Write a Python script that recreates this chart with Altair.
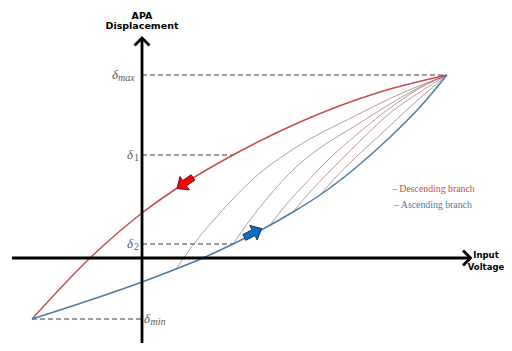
import altair as alt
import pandas as pd

# ---- data (arbitrary units: U = input voltage, D = APA displacement) ----
desc_u = [-1.10, -0.52, 0.00, 0.43, 0.91, 1.58, 2.38, 3.05]
desc_d = [-0.61, 0.00, 0.45, 0.75, 1.03, 1.36, 1.66, 1.83]

asc_u = [-1.10, 0.00, 0.34, 0.61, 0.91, 1.21, 1.51, 1.78, 2.11, 2.45, 2.78, 3.05]
asc_d = [-0.61, -0.24, -0.11, 0.00, 0.14, 0.29, 0.46, 0.63, 0.88, 1.18, 1.51, 1.83]

inner_u = [
    [0.34, 0.51, 0.78, 1.11, 1.53, 2.13, 2.58, 3.05],
    [0.91, 1.08, 1.28, 1.53, 1.78, 2.13, 2.48, 2.78, 3.05],
    [1.28, 1.43, 1.63, 1.88, 2.13, 2.48, 2.78, 3.05],
    [1.51, 1.68, 1.88, 2.13, 2.48, 2.78, 3.05],
    [1.78, 1.93, 2.13, 2.38, 2.68, 3.05],
]
inner_d = [
    [-0.11, 0.13, 0.45, 0.79, 1.10, 1.42, 1.64, 1.83],
    [0.14, 0.38, 0.63, 0.90, 1.10, 1.32, 1.54, 1.71, 1.83],
    [0.33, 0.52, 0.74, 1.00, 1.22, 1.50, 1.70, 1.83],
    [0.46, 0.66, 0.87, 1.12, 1.45, 1.66, 1.83],
    [0.63, 0.80, 1.00, 1.23, 1.51, 1.83],
]

# reference levels: name, value, dashed-line start/end on U
level_sub = ["max", "1", "2", "min"]
level_val = [1.83, 1.03, 0.14, -0.61]
level_u0 = [0.00, 0.00, 0.00, -1.10]
level_u1 = [3.05, 0.91, 0.91, 0.00]
level_lab_u = [-0.24, -0.09, -0.09, 0.02]
level_sub_u = [-0.24, -0.09, -0.09, 0.085]
level_align = ["right", "right", "right", "left"]
level_sub_style = ["italic", "normal", "normal", "italic"]

# axes extents
u_axis = [-1.30, 3.285]
d_axis = [-0.85, 2.20]

# direction arrows (position on branch)
arrow_u = [0.43, 1.11]
arrow_d = [0.75, 0.25]

legend_labels = ["\u2013\u2009Descending branch", "\u2013\u2009Ascending branch"]
legend_u = [2.505, 2.52]
legend_d = [0.69, 0.53]

RED = "#c0504d"
BLUE = "#4a7ca8"

xs = alt.Scale(domain=[-1.34, 3.62], nice=False, zero=False)
ys = alt.Scale(domain=[-0.85, 2.50], nice=False, zero=False)
X = lambda f: alt.X(f, type="quantitative", scale=xs, axis=None)
Y = lambda f: alt.Y(f, type="quantitative", scale=ys, axis=None)

# frames
desc_df = pd.DataFrame({"u": desc_u, "d": desc_d, "i": range(len(desc_u))})
asc_df = pd.DataFrame({"u": asc_u, "d": asc_d, "i": range(len(asc_u))})
inner_rows = []
for k, (us, ds) in enumerate(zip(inner_u, inner_d)):
    for i, (u, d) in enumerate(zip(us, ds)):
        inner_rows.append({"u": u, "d": d, "c": k, "i": i})
inner_df = pd.DataFrame(inner_rows)
lev_df = pd.DataFrame({"sub": level_sub, "d": level_val, "u0": level_u0, "u1": level_u1,
                       "lu": level_lab_u, "su": level_sub_u, "al": level_align,
                       "st": level_sub_style, "delta": ["\u03b4"] * 4})

dashed = alt.Chart(lev_df).mark_rule(color="#3a3a3a", strokeWidth=1.2, strokeDash=[5, 3]).encode(
    x=X("u0"), x2="u1", y=Y("d"))

inner = alt.Chart(inner_df).mark_line(interpolate="monotone", color="#9a6a70", strokeWidth=0.8,
                                      opacity=0.85).encode(
    x=X("u"), y=Y("d"), detail="c:N", order="i:Q")

desc = alt.Chart(desc_df).mark_line(interpolate="monotone", color=RED, strokeWidth=1.5).encode(
    x=X("u"), y=Y("d"), order="i:Q")
asc = alt.Chart(asc_df).mark_line(interpolate="monotone", color=BLUE, strokeWidth=1.5).encode(
    x=X("u"), y=Y("d"), order="i:Q")

haxis = alt.Chart(pd.DataFrame({"u0": [u_axis[0]], "u1": [u_axis[1]], "d": [0.0]})).mark_rule(
    color="black", strokeWidth=2.8).encode(x=X("u0"), x2="u1", y=Y("d"))
vaxis = alt.Chart(pd.DataFrame({"d0": [d_axis[0]], "d1": [d_axis[1]], "u": [0.0]})).mark_rule(
    color="black", strokeWidth=2.8).encode(y=Y("d0"), y2="d1", x=X("u"))

CHEVRON = "M -1 -1 L 0 0 L -1 1"
hhead = alt.Chart(pd.DataFrame({"u": [u_axis[1]], "d": [0.0]})).mark_point(
    shape=CHEVRON, filled=False, stroke="black", strokeWidth=2.8, size=225, opacity=1).encode(
    x=X("u"), y=Y("d"))
vhead = alt.Chart(pd.DataFrame({"u": [0.0], "d": [d_axis[1]]})).mark_point(
    shape=CHEVRON, filled=False, stroke="black", strokeWidth=2.8, size=225, angle=270, opacity=1).encode(
    x=X("u"), y=Y("d"))

BLOCK = "M -0.95 -0.32 L 0.05 -0.32 L 0.05 -0.8 L 0.95 0 L 0.05 0.8 L 0.05 0.32 L -0.95 0.32 Z"
red_arrow = alt.Chart(pd.DataFrame({"u": [arrow_u[0]], "d": [arrow_d[0]]})).mark_point(
    shape=BLOCK, filled=True, fill="#ff0000", stroke="#3a1010", strokeWidth=0.8, size=420,
    angle=145, opacity=1).encode(x=X("u"), y=Y("d"))
blue_arrow = alt.Chart(pd.DataFrame({"u": [arrow_u[1]], "d": [arrow_d[1]]})).mark_point(
    shape=BLOCK, filled=True, fill="#0a6fc2", stroke="#102a40", strokeWidth=0.8, size=420,
    angle=333, opacity=1).encode(x=X("u"), y=Y("d"))

# labels
delta_r = alt.Chart(lev_df[lev_df.al == "right"]).mark_text(
    font="Liberation Serif", fontStyle="italic", fontSize=13, color="#595959",
    align="right", baseline="alphabetic", dy=4).encode(x=X("lu"), y=Y("d"), text="delta:N")
delta_l = alt.Chart(lev_df[lev_df.al == "left"]).mark_text(
    font="Liberation Serif", fontStyle="italic", fontSize=13, color="#595959",
    align="left", baseline="alphabetic", dy=4).encode(x=X("lu"), y=Y("d"), text="delta:N")
subs_it = alt.Chart(lev_df[lev_df.st == "italic"]).mark_text(
    font="Liberation Serif", fontStyle="italic", fontSize=10, color="#595959",
    align="left", baseline="alphabetic", dy=6).encode(x=X("su"), y=Y("d"), text="sub:N")
subs_up = alt.Chart(lev_df[lev_df.st == "normal"]).mark_text(
    font="Liberation Serif", fontSize=10, color="#595959",
    align="left", baseline="alphabetic", dy=6, dx=1).encode(x=X("su"), y=Y("d"), text="sub:N")

titles_df = pd.DataFrame({
    "t": ["APA", "Displacement"],
    "u": [0.0, 0.0],
    "d": [2.42, 2.32],
})
titles = alt.Chart(titles_df).mark_text(
    font="DejaVu Sans", fontWeight="bold", fontSize=9.5, color="black",
    align="center", baseline="middle").encode(x=X("u"), y=Y("d"), text="t:N")

xtitle_df = pd.DataFrame({"t": ["Input", "Voltage"], "u": [3.44, 3.44], "d": [0.03, -0.09]})
xtitle = alt.Chart(xtitle_df).mark_text(
    font="DejaVu Sans", fontWeight="bold", fontSize=8.5, color="black",
    align="center", baseline="middle").encode(x=X("u"), y=Y("d"), text="t:N")

leg_df = pd.DataFrame({"t": legend_labels, "u": legend_u, "d": legend_d, "c": [RED, BLUE]})
legend = alt.Chart(leg_df).mark_text(
    font="Liberation Serif", fontSize=9.8, align="left", baseline="middle").encode(
    x=X("u"), y=Y("d"), text="t:N", color=alt.Color("c:N", scale=None))

chart = alt.layer(
    dashed, inner, desc, asc, haxis, vaxis, hhead, vhead, red_arrow, blue_arrow,
    delta_r, delta_l, subs_it, subs_up, titles, xtitle, legend
).properties(
    width=496, height=335, autosize=alt.AutoSizeParams(type="none"), padding=0,
    background="white"
).configure_view(stroke=None)

chart.save("out.html", embed_options={"renderer": "svg", "actions": False})
